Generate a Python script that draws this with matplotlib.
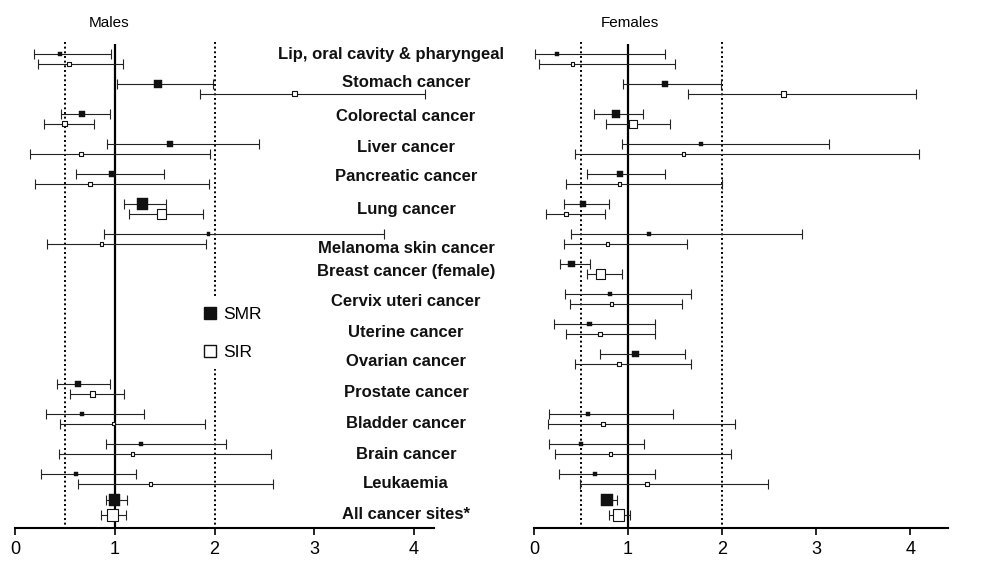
import numpy as np
import matplotlib.pyplot as plt
from matplotlib.lines import Line2D

plt.rcParams['font.family'] = ['Liberation Sans', 'DejaVu Sans']

categories = ['Lip, oral cavity & pharyngeal', 'Stomach cancer', 'Colorectal cancer',
              'Liver cancer', 'Pancreatic cancer', 'Lung cancer', 'Melanoma skin cancer',
              'Breast cancer (female)', 'Cervix uteri cancer', 'Uterine cancer',
              'Ovarian cancer', 'Prostate cancer', 'Bladder cancer', 'Brain cancer',
              'Leukaemia', 'All cancer sites*']
nan = np.nan

# males
m_smr = [0.45, 1.43, 0.67, 1.55, 0.97, 1.28, 1.94, nan, nan, nan, nan, 0.63, 0.67, 1.26, 0.61, 1.00]
m_smr_lo = [0.19, 1.02, 0.46, 0.92, 0.61, 1.09, 0.89, nan, nan, nan, nan, 0.42, 0.31, 0.91, 0.26, 0.91]
m_smr_hi = [0.96, 1.98, 0.95, 2.45, 1.49, 1.51, 3.70, nan, nan, nan, nan, 0.95, 1.29, 2.12, 1.21, 1.12]
m_sir = [0.54, 2.80, 0.50, 0.66, 0.75, 1.47, 0.87, nan, nan, nan, nan, 0.78, 0.99, 1.18, 1.36, 0.98]
m_sir_lo = [0.23, 1.85, 0.29, 0.15, 0.20, 1.14, 0.32, nan, nan, nan, nan, 0.55, 0.45, 0.44, 0.63, 0.86]
m_sir_hi = [1.08, 4.11, 0.79, 1.95, 1.94, 1.88, 1.91, nan, nan, nan, nan, 1.09, 1.90, 2.57, 2.59, 1.11]
m_smr_box = [4, 7.7, 6, 6, 5.7, 11.3, 3.7, 0, 0, 0, 0, 6, 4, 4, 4, 11.3]
m_sir_box = [3.7, 5, 5, 3.7, 3.7, 9.3, 3.3, 0, 0, 0, 0, 5.3, 3, 3.3, 3.3, 11.3]

# females
f_smr = [0.24, 1.39, 0.87, 1.78, 0.91, 0.52, 1.22, 0.40, 0.81, 0.59, 1.08, nan, 0.57, 0.50, 0.65, 0.78]
f_smr_lo = [0.01, 0.95, 0.64, 0.93, 0.56, 0.32, 0.39, 0.28, 0.33, 0.21, 0.70, nan, 0.16, 0.16, 0.27, 0.71]
f_smr_hi = [1.39, 1.99, 1.16, 3.13, 1.39, 0.80, 2.85, 0.59, 1.67, 1.29, 1.61, nan, 1.48, 1.17, 1.29, 0.88]
f_sir = [0.41, 2.65, 1.05, 1.59, 0.91, 0.34, 0.78, 0.71, 0.82, 0.70, 0.90, nan, 0.73, 0.81, 1.20, 0.90]
f_sir_lo = [0.05, 1.64, 0.76, 0.44, 0.34, 0.13, 0.32, 0.56, 0.38, 0.34, 0.44, nan, 0.15, 0.22, 0.49, 0.80]
f_sir_hi = [1.50, 4.06, 1.45, 4.09, 2.00, 0.75, 1.63, 0.93, 1.57, 1.29, 1.67, nan, 2.14, 2.09, 2.49, 1.02]
f_smr_box = [4, 6.3, 7.7, 4, 6, 6, 3.7, 6.3, 4, 4.3, 6.3, 0, 4, 4, 4, 12]
f_sir_box = [3.3, 5.3, 7.7, 3.3, 3.3, 4, 3.7, 9.3, 3.3, 4, 4, 0, 4, 3.3, 3.3, 11.3]

# layout (row units)
rows = np.arange(len(categories), dtype=float)
y_smr = rows.copy()
y_sir = rows + 0.33
y_smr[-1] -= 0.13
y_sir[-1] += 0.04
label_y = rows + np.array([-0.04, -0.09, 0.02, 0.05, 0.04, 0.12, 0.42, 0.19, 0.2, 0.22,
                           0.21, 0.24, 0.27, 0.31, 0.28, 0.31])

W, H = 992, 566
fig = plt.figure(figsize=(W / 100, H / 100), dpi=100)
ax_m = fig.add_axes([15 / W, (H - 528) / H, 419 / W, 488 / H])
ax_f = fig.add_axes([534 / W, (H - 528) / H, 414 / W, 488 / H])


def panel(ax, xmax, smr, slo, shi, sir, ilo, ihi, sbox, ibox, title, tx):
    smr, slo, shi = np.array(smr), np.array(slo), np.array(shi)
    sir, ilo, ihi = np.array(sir), np.array(ilo), np.array(ihi)
    ax.set_xlim(0, xmax)
    ax.set_ylim(15.8, -0.467)
    ax.vlines(1, -0.33, 15.8, color='black', lw=1.6, zorder=1)
    ax.vlines([0.5, 2], -0.4, 15.8, color='black', lw=1.4, linestyles=(0, (1, 1.4)), zorder=1)
    ok = ~np.isnan(smr)
    ax.errorbar(smr[ok], y_smr[ok], xerr=[smr[ok] - slo[ok], shi[ok] - smr[ok]], fmt='none',
                ecolor='#222222', elinewidth=0.8, capsize=3.5, capthick=0.8, zorder=2)
    ax.errorbar(sir[ok], y_sir[ok], xerr=[sir[ok] - ilo[ok], ihi[ok] - sir[ok]], fmt='none',
                ecolor='#222222', elinewidth=0.8, capsize=3.5, capthick=0.8, zorder=2)
    ax.scatter(smr[ok], y_smr[ok], s=(np.array(sbox)[ok] * 0.72) ** 2, marker='s',
               c='#111111', edgecolors='#111111', linewidths=0.3, zorder=3)
    ax.scatter(sir[ok], y_sir[ok], s=(np.array(ibox)[ok] * 0.72) ** 2, marker='s',
               facecolors='white', edgecolors='#111111', linewidths=0.8, zorder=3)
    for s in ['left', 'right', 'top']:
        ax.spines[s].set_visible(False)
    ax.spines['bottom'].set_linewidth(1.5)
    ax.spines['bottom'].set_bounds(0, xmax)
    ax.set_yticks([])
    ax.set_xticks([0, 1, 2, 3, 4])
    ax.tick_params(axis='x', length=5, width=1.2, pad=4, labelsize=13)
    ax.text(tx, -0.9, title, ha='center', va='baseline', fontsize=11, clip_on=False)


panel(ax_m, 4.2, m_smr, m_smr_lo, m_smr_hi, m_sir, m_sir_lo, m_sir_hi, m_smr_box, m_sir_box, 'Males', 0.94)
panel(ax_f, 4.4, f_smr, f_smr_lo, f_smr_hi, f_sir, f_sir_lo, f_sir_hi, f_smr_box, f_sir_box, 'Females', 1.02)

for i, lab in enumerate(categories):
    x = 3.77 if i == 0 else 3.92
    ax_m.text(x, label_y[i] + 0.2, lab, ha='center', va='baseline', fontsize=12,
              fontweight='bold', color='#111111', clip_on=False)

handles = [Line2D([], [], marker='s', ls='none', ms=8.6, mfc='#111111', mec='#111111'),
           Line2D([], [], marker='s', ls='none', ms=8.6, mfc='white', mec='#111111', mew=1)]
leg = ax_m.legend(handles, ['SMR', 'SIR'], loc='center', bbox_to_anchor=(232 / W, 1 - 333.5 / H),
                  bbox_transform=fig.transFigure, frameon=True, facecolor='white', edgecolor='none',
                  framealpha=1, fontsize=12.5, handlelength=0.8, handletextpad=0.35,
                  labelspacing=1.3, borderpad=0.5, borderaxespad=0)
leg.get_frame().set_boxstyle('square', pad=0)

fig.savefig('out.png', dpi=100)
